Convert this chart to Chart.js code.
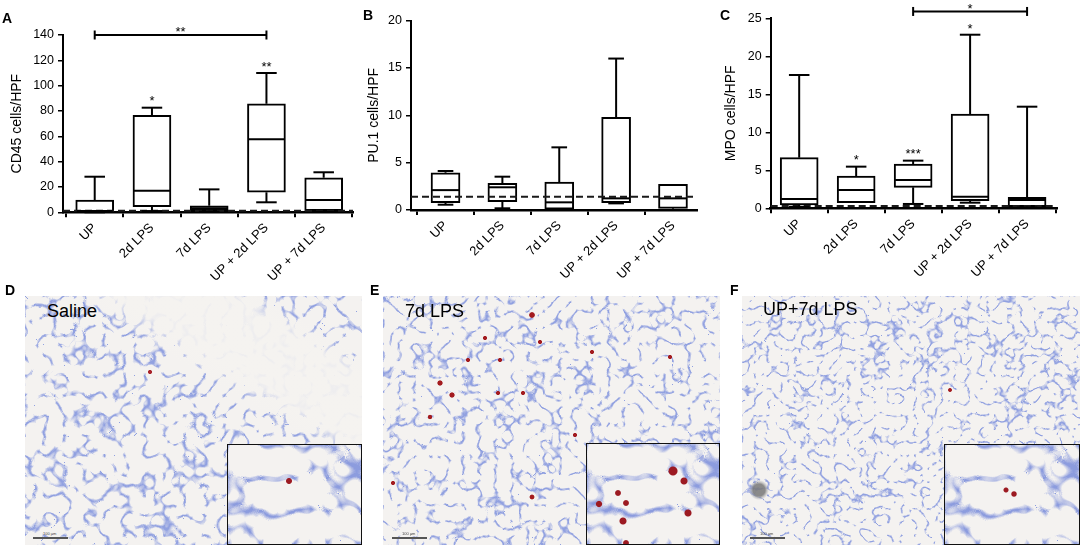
<!DOCTYPE html>
<html><head><meta charset="utf-8">
<script src="https://cdn.jsdelivr.net/npm/chart.js@4.4.1/dist/chart.umd.min.js"></script>
<style>
html,body{margin:0;padding:0;background:#fff;}
#page{position:relative;width:1084px;height:550px;overflow:hidden;background:#fff;font-family:"Liberation Sans",Arial,Helvetica,sans-serif;}
canvas{position:absolute;top:0;}
.plab{position:absolute;font-weight:bold;font-size:14px;line-height:14px;color:#000;}
.img{position:absolute;top:296px;height:249px;overflow:hidden;background-color:#f4f2f0;}
.img svg, .inset svg{position:absolute;left:0;top:0;}
.band{position:absolute;left:0;top:0;right:0;bottom:0;
 background:linear-gradient(31.6deg, transparent 61%, rgba(245,243,240,.93) 67%, rgba(245,243,240,.93) 82%, transparent 87%);}
.inset{position:absolute;border:1.5px solid #111;box-sizing:border-box;overflow:hidden;background-color:#f4f2f0;}
.itxt{position:absolute;font-size:18px;line-height:18px;color:#000;white-space:nowrap;}
.sbar{position:absolute;top:241px;width:35px;height:1.5px;background:#555;}
.stx{position:absolute;top:236px;font-size:4px;line-height:4px;color:#444;}
.dots{position:absolute;left:0;top:0;right:0;bottom:0;}
</style></head>
<body>
<div id="page">
  <canvas id="cA" width="362" height="290" style="left:0"></canvas>
  <canvas id="cB" width="360" height="290" style="left:362px"></canvas>
  <canvas id="cC" width="362" height="290" style="left:722px"></canvas>
  <div class="plab" style="left:2px;top:11px">A</div>
  <div class="plab" style="left:363px;top:8px">B</div>
  <div class="plab" style="left:720px;top:8px">C</div>
  <div class="plab" style="left:5px;top:283px">D</div>
  <div class="plab" style="left:370px;top:283px">E</div>
  <div class="plab" style="left:730px;top:283px">F</div>

  <svg width="0" height="0" style="position:absolute">
    <defs>
      <filter id="fD" x="0" y="0" width="100%" height="100%" color-interpolation-filters="sRGB">
        <feTurbulence type="turbulence" baseFrequency="0.05" numOctaves="2" seed="7"/>
        <feColorMatrix type="matrix" values="0 0 0 0 0.57  0 0 0 0 0.63  0 0 0 0 0.88  -8 0 0 0 1.25"/>
      </filter>
      <filter id="fE" x="0" y="0" width="100%" height="100%" color-interpolation-filters="sRGB">
        <feTurbulence type="turbulence" baseFrequency="0.062" numOctaves="2" seed="3"/>
        <feColorMatrix type="matrix" values="0 0 0 0 0.57  0 0 0 0 0.63  0 0 0 0 0.88  -8 0 0 0 1.25"/>
      </filter>
      <filter id="fF" x="0" y="0" width="100%" height="100%" color-interpolation-filters="sRGB">
        <feTurbulence type="turbulence" baseFrequency="0.075" numOctaves="2" seed="11"/>
        <feColorMatrix type="matrix" values="0 0 0 0 0.57  0 0 0 0 0.63  0 0 0 0 0.88  -8 0 0 0 1.25"/>
      </filter>
      <filter id="fI" x="0" y="0" width="100%" height="100%" color-interpolation-filters="sRGB">
        <feTurbulence type="turbulence" baseFrequency="0.03" numOctaves="2" seed="5"/>
        <feColorMatrix type="matrix" values="0 0 0 0 0.55  0 0 0 0 0.61  0 0 0 0 0.87  -6 0 0 0 1.2"/>
      </filter>
    </defs>
  </svg>

  <div class="img" style="left:25px;width:337px">
    <svg width="337" height="249"><rect width="337" height="249" filter="url(#fD)"/></svg>
    <div class="band"></div>
    <div class="dots" style="background:radial-gradient(circle at 125px 76px,#a8232a 0 1.6px,transparent 2.4px)"></div>
    <div class="itxt" style="left:22px;top:5.5px">Saline</div>
    <div class="sbar" style="left:8px"></div><div class="stx" style="left:18px">100 µm</div>
    <div class="inset" style="left:202px;top:148px;width:135px;height:101px">
      <svg width="135" height="101"><rect width="135" height="101" filter="url(#fI)"/></svg>
      <div class="dots" style="background:radial-gradient(circle at 61px 36px,#9c1a22 0 2.5px,transparent 3.4px)"></div>
    </div>
  </div>

  <div class="img" style="left:383px;width:337px">
    <svg width="337" height="249"><rect width="337" height="249" filter="url(#fE)"/></svg>
    <div class="dots" style="background:
      radial-gradient(circle at 149px 19px,#a31b1f 0 2.4px,transparent 3.2px),
      radial-gradient(circle at 57px 87px,#a31b1f 0 2.2px,transparent 3px),
      radial-gradient(circle at 69px 99px,#a31b1f 0 2.2px,transparent 3px),
      radial-gradient(circle at 85px 64px,#a31b1f 0 1.6px,transparent 2.4px),
      radial-gradient(circle at 117px 64px,#a31b1f 0 1.6px,transparent 2.4px),
      radial-gradient(circle at 140px 97px,#a31b1f 0 1.6px,transparent 2.4px),
      radial-gradient(circle at 157px 46px,#a31b1f 0 1.6px,transparent 2.4px),
      radial-gradient(circle at 47px 121px,#a31b1f 0 1.8px,transparent 2.6px),
      radial-gradient(circle at 149px 201px,#a31b1f 0 2px,transparent 2.8px),
      radial-gradient(circle at 287px 61px,#a31b1f 0 1.6px,transparent 2.4px),
      radial-gradient(circle at 209px 56px,#a31b1f 0 1.6px,transparent 2.4px),
      radial-gradient(circle at 102px 42px,#a31b1f 0 1.6px,transparent 2.4px),
      radial-gradient(circle at 192px 139px,#a31b1f 0 1.6px,transparent 2.4px),
      radial-gradient(circle at 10px 187px,#a31b1f 0 1.6px,transparent 2.4px),
      radial-gradient(circle at 115px 97px,#a31b1f 0 1.6px,transparent 2.4px)"></div>
    <div class="itxt" style="left:22px;top:5.5px">7d LPS</div>
    <div class="sbar" style="left:9px"></div><div class="stx" style="left:19px">100 µm</div>
    <div class="inset" style="left:203px;top:147px;width:134px;height:102px">
      <svg width="134" height="102"><rect width="134" height="102" filter="url(#fI)"/></svg>
      <div class="dots" style="background:
        radial-gradient(circle at 86px 27px,#9c1a22 0 4px,transparent 5px),
        radial-gradient(circle at 97px 37px,#9c1a22 0 3px,transparent 4px),
        radial-gradient(circle at 36px 77px,#9c1a22 0 3px,transparent 4px),
        radial-gradient(circle at 12px 60px,#9c1a22 0 2.6px,transparent 3.6px),
        radial-gradient(circle at 39px 59px,#9c1a22 0 2.4px,transparent 3.4px),
        radial-gradient(circle at 101px 69px,#9c1a22 0 3px,transparent 4px),
        radial-gradient(circle at 31px 49px,#9c1a22 0 2.4px,transparent 3.4px),
        radial-gradient(circle at 39px 99px,#9c1a22 0 2.4px,transparent 3.4px)"></div>
    </div>
  </div>

  <div class="img" style="left:742px;width:338px">
    <svg width="338" height="249"><rect width="338" height="249" filter="url(#fF)"/></svg>
    <div class="dots" style="background:
      radial-gradient(circle at 208px 94px,#a31b1f 0 1.5px,transparent 2.3px),
      radial-gradient(circle at 17px 194px,rgba(120,120,120,.85) 0 6px,rgba(160,160,160,.5) 8px,transparent 10px)"></div>
    <div class="itxt" style="left:21px;top:4px">UP+7d LPS</div>
    <div class="sbar" style="left:8px"></div><div class="stx" style="left:18px">100 µm</div>
    <div class="inset" style="left:202px;top:148px;width:136px;height:101px">
      <svg width="136" height="101"><rect width="136" height="101" filter="url(#fI)"/></svg>
      <div class="dots" style="background:
        radial-gradient(circle at 61px 45px,#9c1a22 0 2px,transparent 3px),
        radial-gradient(circle at 69px 49px,#9c1a22 0 2.2px,transparent 3.2px)"></div>
    </div>
  </div>
</div>
<script>
// ---- data ----
const categories = ['UP', '2d LPS', '7d LPS', 'UP + 2d LPS', 'UP + 7d LPS'];

// A: CD45 cells/HPF
const cd45Min    = [0,    1,    0.5, 7.9,  0.5];
const cd45Q1     = [0.5,  4.4,  1.3, 15.8, 1.3];
const cd45Median = [1,    17.1, 3.1, 57.6, 9.7];
const cd45Q3     = [9.7,  76.6, 5.2, 85.7, 27.3];
const cd45Max    = [28.1, 82.6, 18.1, 110, 31.6];
const cd45Ref    = 1.3;
const cd45Ticks  = [0, 20, 40, 60, 80, 100, 120, 140];
const cd45Stars  = [{i: 1, v: 90.8, t: '*'}, {i: 3, v: 117.6, t: '**'}];
const cd45Brackets = [{from: 0, to: 3, v: 140, textV: 145.3, t: '**'}];

// B: PU.1 cells/HPF
const pu1Min    = [0.56, 0.18, 0,    0.7,  0];
const pu1Q1     = [0.77, 0.88, 0,    0.77, 0.18];
const pu1Median = [2.1,  2.4,  0.81, 1.23, 1.23];
const pu1Q3     = [3.94, 2.82, 2.96, 9.79, 2.71];
const pu1Max    = [4.12, 3.52, 6.62, 16.0, 2.71];
const pu1Ref    = 1.4;
const pu1Ticks  = [0, 5, 10, 15, 20];
const pu1Stars  = [];
const pu1Brackets = [];

// C: MPO cells/HPF
const mpoMin    = [0.2,  0.74, 0.57, 0.74, 0.1];
const mpoQ1     = [0.43, 0.74, 2.76, 1.0,  0.21];
const mpoMedian = [1.22, 2.41, 3.72, 1.53, 1.09];
const mpoQ3     = [6.66, 4.25, 5.83, 12.41, 1.45];
const mpoMax    = [17.54, 5.48, 6.27, 22.84, 13.37];
const mpoRef    = 0.3;
const mpoTicks  = [0, 5, 10, 15, 20, 25];
const mpoStars  = [{i: 1, v: 6.8, t: '*'}, {i: 2, v: 7.6, t: '***'}, {i: 3, v: 24.1, t: '*'}];
const mpoBrackets = [{from: 2, to: 4, v: 25.9, textV: 26.7, t: '*'}];

// ---- drawing ----
const FONT = '"Liberation Sans", Arial, Helvetica, sans-serif';

function boxChart(canvasId, d, L) {
  const boxData = categories.map((c, i) => ({x: i, y: [d.q1[i], d.q3[i]]}));
  const refData = [{x: L.xMin, y: d.ref}, {x: L.xMax, y: d.ref}];
  const extras = {
    id: 'extras_' + canvasId,
    afterDatasetsDraw(chart) {
      const {ctx, scales: {x, y}} = chart;
      const meta = chart.getDatasetMeta(1);
      ctx.save();
      ctx.strokeStyle = '#000';
      ctx.lineWidth = 2;
      const seg = (x1, y1, x2, y2) => { ctx.beginPath(); ctx.moveTo(x1, y1); ctx.lineTo(x2, y2); ctx.stroke(); };
      meta.data.forEach((el, i) => {
        const p = el.getProps(['x', 'width'], true);
        const cx = p.x, hw = p.width / 2, cw = p.width * 0.27;
        const yMax = y.getPixelForValue(d.max[i]);
        const yQ3 = y.getPixelForValue(d.q3[i]);
        const yQ1 = y.getPixelForValue(d.q1[i]);
        const yMin = y.getPixelForValue(d.min[i]);
        const yMed = y.getPixelForValue(d.median[i]);
        if (yMax < yQ3 - 0.5) { seg(cx, yQ3, cx, yMax); seg(cx - cw, yMax, cx + cw, yMax); }
        if (yMin > yQ1 + 0.5) { seg(cx, yQ1, cx, yMin); seg(cx - cw, yMin, cx + cw, yMin); }
        seg(cx - hw + 1, yMed, cx + hw - 1, yMed);
      });
      ctx.fillStyle = '#000';
      ctx.font = '13px ' + FONT;
      ctx.textAlign = 'center';
      ctx.textBaseline = 'alphabetic';
      const star = (t, px, py) => ctx.fillText(t, px, py + 13 * 0.57);
      d.brackets.forEach(b => {
        const x1 = x.getPixelForValue(b.from), x2 = x.getPixelForValue(b.to), yy = y.getPixelForValue(b.v);
        seg(x1, yy, x2, yy); seg(x1, yy - 4.5, x1, yy + 4.5); seg(x2, yy - 4.5, x2, yy + 4.5);
        star(b.t, (x1 + x2) / 2, y.getPixelForValue(b.textV));
      });
      d.stars.forEach(s => star(s.t, x.getPixelForValue(s.i), y.getPixelForValue(s.v)));
      ctx.restore();
    }
  };
  return new Chart(document.getElementById(canvasId), {
    type: 'bar',
    data: {datasets: [
      {type: 'line', data: refData, borderColor: '#1a1a1a', borderWidth: 2, borderDash: [7, 4],
       pointRadius: 0, order: 0, fill: false},
      {type: 'bar', data: boxData, backgroundColor: '#fff', borderColor: '#000', borderWidth: 2,
       borderSkipped: false, barThickness: L.bar, order: 1}
    ]},
    options: {
      responsive: false, animation: false,
      layout: {padding: {top: L.top, right: L.right, left: 0, bottom: 0}},
      plugins: {legend: {display: false}, tooltip: {enabled: false}},
      scales: {
        x: {
          type: 'linear', min: L.xMin, max: L.xMax, offset: false,
          afterBuildTicks: s => { s.ticks = categories.map((c, i) => ({value: i})); },
          afterFit: s => { s.height = L.xH; },
          grid: {display: true, drawOnChartArea: false, drawTicks: true, tickLength: 5, color: '#000', lineWidth: 2},
          border: {display: true, color: '#000', width: 2.5},
          ticks: {autoSkip: false, minRotation: 45, maxRotation: 45, padding: 3, color: '#000',
                  font: {family: FONT, size: 13}, callback: v => categories[v] !== undefined ? categories[v] : ''}
        },
        y: {
          type: 'linear', min: d.ticks[0], max: d.ticks[d.ticks.length - 1],
          afterBuildTicks: s => { s.ticks = d.ticks.map(v => ({value: v})); },
          afterFit: s => { s.width = L.yW; },
          grid: {display: true, drawOnChartArea: false, drawTicks: true, tickLength: 5, color: '#000', lineWidth: 1.5},
          border: {display: true, color: '#000', width: 2},
          ticks: {padding: 4, color: '#000', font: {family: FONT, size: 12.5}},
          title: {display: true, text: d.title, color: '#000', font: {family: FONT, size: 14},
                  padding: {top: L.tp, bottom: 0}}
        }
      }
    },
    plugins: [extras]
  });
}

boxChart('cA', {min: cd45Min, q1: cd45Q1, median: cd45Median, q3: cd45Q3, max: cd45Max, ref: cd45Ref,
  ticks: cd45Ticks, stars: cd45Stars, brackets: cd45Brackets, title: 'CD45 cells/HPF'},
  {top: 35, right: 9, yW: 63, xH: 77.7, tp: 8.3, xMin: -0.554, xMax: 4.512, bar: 38});

boxChart('cB', {min: pu1Min, q1: pu1Q1, median: pu1Median, q3: pu1Q3, max: pu1Max, ref: pu1Ref,
  ticks: pu1Ticks, stars: pu1Stars, brackets: pu1Brackets, title: 'PU.1 cells/HPF'},
  {top: 20.7, right: 25.3, yW: 49, xH: 80, tp: 3.6, xMin: -0.607, xMax: 4.417, bar: 29});

boxChart('cC', {min: mpoMin, q1: mpoQ1, median: mpoMedian, q3: mpoQ3, max: mpoMax, ref: mpoRef,
  ticks: mpoTicks, stars: mpoStars, brackets: mpoBrackets, title: 'MPO cells/HPF'},
  {top: 18.3, right: 27.3, yW: 48.7, xH: 81.7, tp: 0.9, xMin: -0.5, xMax: 4.52, bar: 38});
</script>
</body></html>
